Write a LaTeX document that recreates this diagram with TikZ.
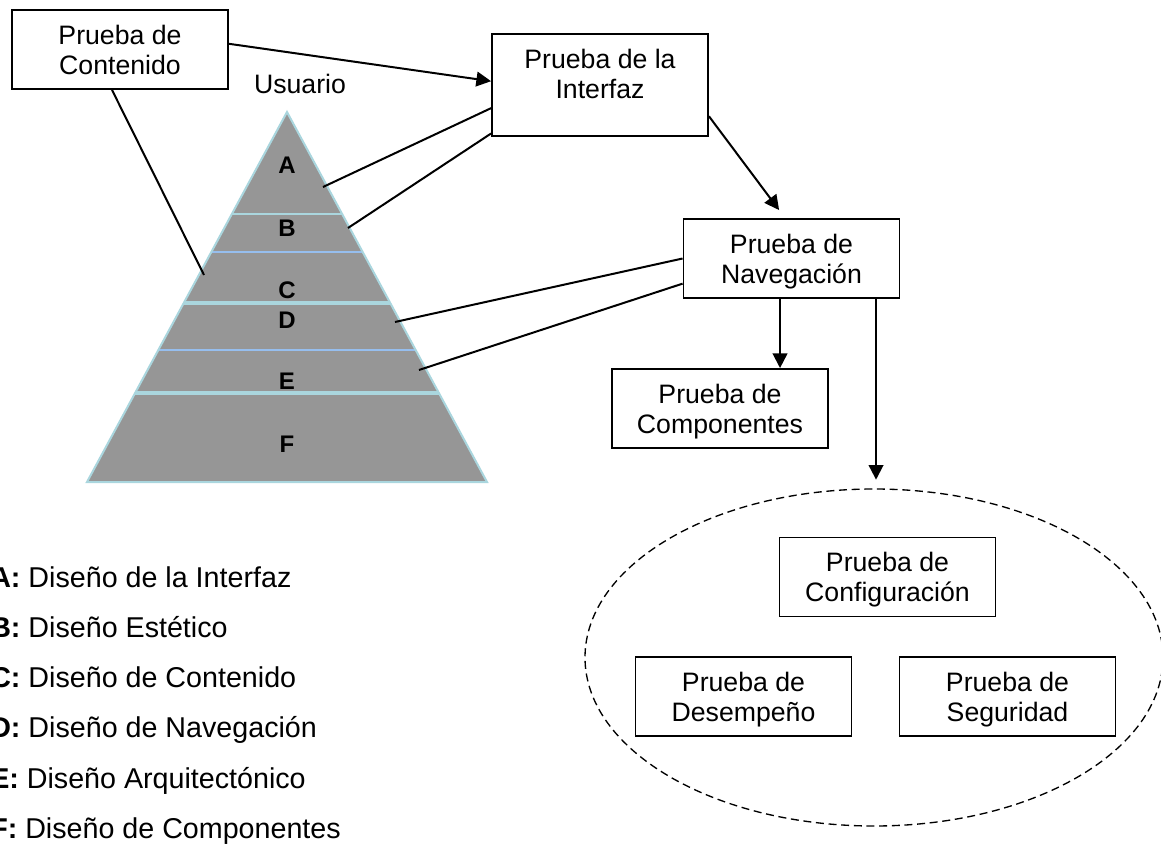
\documentclass[tikz,border=0pt]{standalone}
\usepackage{fontspec}
\setmainfont{Liberation Sans}
\usetikzlibrary{shapes.geometric,arrows.meta,positioning,calc}
\definecolor{pyrgray}{RGB}{150,150,150}
\definecolor{pyredge}{RGB}{170,214,222}
\definecolor{bandblue}{RGB}{150,190,238}

\begin{document}
\begin{tikzpicture}[
    x=0.75pt, y=-0.75pt,
    box/.style={rectangle, draw, line width=1.4pt, minimum width=162pt, minimum height=59.25pt, inner sep=0pt, text depth=0pt, align=center, font=\fontsize{20}{22.5}\selectfont},
    tag/.style={anchor=base, inner sep=0pt, font=\fontsize{18}{20}\selectfont\bfseries},
    legend/.style={anchor=base west, inner sep=0pt, font=\fontsize{21.5}{24}\selectfont},
    arr/.style={-{Triangle[length=11pt,width=11pt]}, line width=1.5pt},
    conn/.style={line width=1.5pt}
]
    \useasboundingbox (0,0) rectangle (1161,845);

    % pyramid
    \coordinate (apex) at (287,112);
    \coordinate (bl) at (87,482);
    \coordinate (br) at (487,482);
    \fill[pyrgray] (apex) -- (br) -- (bl) -- cycle;
    \draw[pyredge, line width=1.5pt] ($(apex)!0.2757!(bl)$) -- ($(apex)!0.2757!(br)$);
    \draw[bandblue, line width=1.5pt] ($(apex)!0.3784!(bl)$) -- ($(apex)!0.3784!(br)$);
    \draw[pyredge, line width=2.5pt] ($(apex)!0.5162!(bl)$) -- ($(apex)!0.5162!(br)$);
    \draw[bandblue, line width=1.5pt] ($(apex)!0.6432!(bl)$) -- ($(apex)!0.6432!(br)$);
    \draw[pyredge, line width=2.5pt] ($(apex)!0.7595!(bl)$) -- ($(apex)!0.7595!(br)$);
    \draw[pyredge, line width=1.5pt] (apex) -- (br) -- (bl) -- cycle;

    \node[tag] (tA) at (287,174) {A};
    \node[tag] (tB) at (287,237) {B};
    \node[tag] (tC) at (287,298) {C};
    \node[tag] (tD) at (287,328) {D};
    \node[tag] (tE) at (287,389) {E};
    \node[tag] (tF) at (287,452) {F};
    \node[anchor=base, inner sep=0pt, font=\fontsize{20}{22.5}\selectfont] (user) at (300,94) {Usuario};

    \coordinate (pC) at (204,275);
    \coordinate (pA) at (323,187);
    \coordinate (pB) at (348,228);
    \coordinate (pD) at (395,322);
    \coordinate (pE) at (419,370);

    % boxes
    \node[box] (cont) at (120,49.5) {Prueba de\\Contenido};
    \node[box, minimum height=76.5pt, text depth=16.5pt] (intf) at (600,85) {Prueba de la\\Interfaz};
    \node[box] (nav) at (791.5,258.5) {Prueba de\\Navegación};
    \node[box] (comp) at (720,408.5) {Prueba de\\Componentes};

    \node[ellipse, draw, line width=1pt, dash pattern=on 6pt off 3.5pt, minimum width=433.5pt, minimum height=252.75pt, inner sep=0pt] (grp) at (874,657.5) {};
    \node[box] (conf) at (887.5,577) {Prueba de\\Configuración};
    \node[box] (des) at (743.5,696.5) {Prueba de\\Desempeño};
    \node[box] (seg) at (1007.5,696.5) {Prueba de\\Seguridad};

    % connectors
    \draw[arr] (cont.3) -- (intf.178);
    \draw[arr, shorten >=7.5pt] (intf.344.5) -- (nav.99);
    \draw[arr] ([xshift=-8.6pt]nav.south) -- ([xshift=-8.6pt]nav.south |- comp.north);
    \draw[arr, shorten >=6.5pt] ([xshift=63.4pt]nav.south) -- ([xshift=63.4pt]nav.south |- grp.north);
    \draw[conn] ([xshift=-6pt]cont.south) -- (pC);
    \draw[conn] (intf.192) -- (pA);
    \draw[conn] (intf.204) -- (pB);
    \draw[conn] (nav.west) -- (pD);
    \draw[conn] (nav.193) -- (pE);

    % legend
    \node[legend] (lA) at (-10,587) {\textbf{A:} Diseño de la Interfaz};
    \node[legend] (lB) at (-10,637) {\textbf{B:} Diseño Estético};
    \node[legend] (lC) at (-10,687) {\textbf{C:} Diseño de Contenido};
    \node[legend] (lD) at (-10,737) {\textbf{D:} Diseño de Navegación};
    \node[legend] (lE) at (-10,788) {\textbf{E:} Diseño Arquitectónico};
    \node[legend] (lF) at (-10,838) {\textbf{F:} Diseño de Componentes};
\end{tikzpicture}
\end{document}
